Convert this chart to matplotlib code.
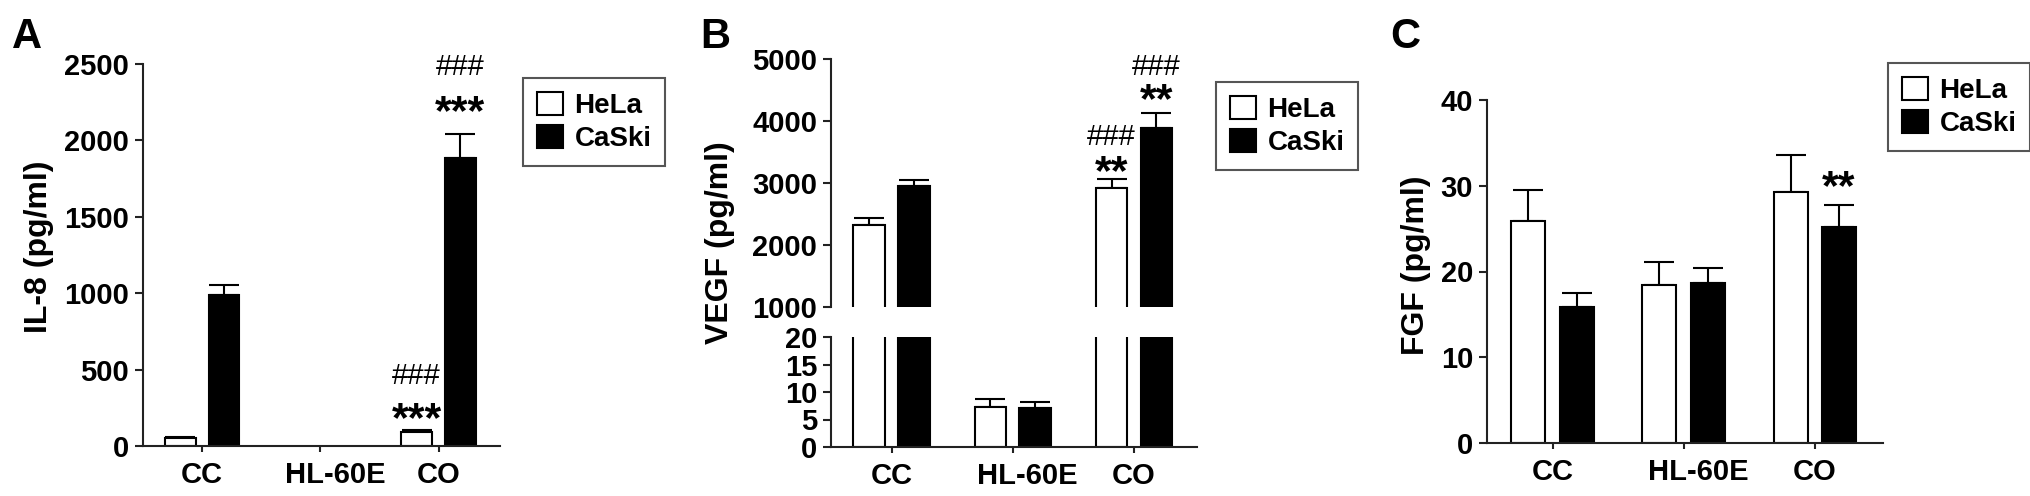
import numpy as np
import matplotlib
matplotlib.use('Agg')
import matplotlib.pyplot as plt
from matplotlib.transforms import ScaledTranslation

plt.rcParams['font.family'] = ['Liberation Sans', 'DejaVu Sans']
plt.rcParams['font.weight'] = 'bold'

categories = ['CC', 'HL-60E', 'CO']
series = ['HeLa', 'CaSki']

# IL-8 (pg/ml); HL-60E has no bars in panel A
il8_hela = [50, np.nan, 90]
il8_hela_err = [6, np.nan, 13]
il8_caski = [985, np.nan, 1885]
il8_caski_err = [70, np.nan, 157]

# VEGF (pg/ml)
vegf_hela = [2323, 7.3, 2919]
vegf_hela_err = [112, 1.4, 146]
vegf_caski = [2950, 7.1, 3887]
vegf_caski_err = [98, 1.1, 242]

# FGF (pg/ml)
fgf_hela = [25.9, 18.4, 29.3]
fgf_hela_err = [3.6, 2.7, 4.3]
fgf_caski = [15.9, 18.7, 25.2]
fgf_caski_err = [1.6, 1.7, 2.5]

# significance marks: (category index, series index, text, y baseline)
il8_marks = [(2, 0, '***', 95), (2, 0, '###', 405), (2, 1, '***', 2105), (2, 1, '###', 2430)]
vegf_marks = [(2, 0, '**', 2990), (2, 0, '###', 3620), (2, 1, '**', 4150), (2, 1, '###', 4745)]
fgf_marks = [(2, 1, '**', 28.5)]

W, H = 2031, 496
fig = plt.figure(figsize=(W / 100, H / 100), dpi=100)

OFF = 0.185
WIDTH = 0.26
x = np.arange(len(categories))


def rect(left, top, right, bottom):
    return [left / W, (H - bottom) / H, (right - left) / W, (bottom - top) / H]


def style(ax, xaxis=True):
    for s in ['top', 'right']:
        ax.spines[s].set_visible(False)
    for s in ['left', 'bottom']:
        ax.spines[s].set_linewidth(1.5)
        ax.spines[s].set_color('#222222')
    ax.tick_params(axis='y', direction='out', length=6, width=1.5, pad=4,
                   labelsize=21, color='#222222')
    ax.tick_params(axis='x', direction='out', length=4, width=1.5, pad=7,
                   labelsize=21, color='#222222')
    ax.set_xlim(-0.5, 2.52)
    if xaxis:
        ax.set_xticks(x)
        ax.set_xticklabels(categories)
        lab = ax.get_xticklabels()[1]
        lab.set_transform(lab.get_transform() + ScaledTranslation(0.15, 0, fig.dpi_scale_trans))
    else:
        ax.spines['bottom'].set_visible(False)
        ax.set_xticks([])


def bars(ax, hela, hela_err, caski, caski_err):
    handles = []
    for off, vals, errs, fc, name in ((-OFF, hela, hela_err, 'white', series[0]),
                                      (OFF, caski, caski_err, 'black', series[1])):
        b = ax.bar(x + off, vals, WIDTH, color=fc, edgecolor='black', linewidth=1.5,
                   zorder=2, label=name)
        ax.errorbar(x + off, vals, yerr=[np.zeros(len(x)), errs], fmt='none',
                    ecolor='black', elinewidth=1.5, capsize=11, capthick=1.5, zorder=1)
        handles.append(b)
    return handles


def marks(ax, items):
    for ci, si, txt, y in items:
        xp = x[ci] + (OFF if si else -OFF)
        if txt.startswith('#'):
            ax.text(xp, y, txt, ha='center', va='baseline', fontsize=21, fontweight='normal')
        else:
            ax.text(xp, y, txt, ha='center', va='baseline', fontsize=31, fontweight='bold')


def legend(ax, handles, left, top):
    leg = ax.legend(handles=handles, loc='upper left', bbox_to_anchor=(left / W, 1 - top / H),
                    bbox_transform=fig.transFigure, borderaxespad=0, fontsize=20,
                    borderpad=0.5, labelspacing=0.2, handletextpad=0.4,
                    handlelength=0.95, handleheight=0.9, fancybox=False, framealpha=1)
    leg.get_frame().set_edgecolor('#555555')
    leg.get_frame().set_linewidth(1.5)


# panel A
axA = fig.add_axes(rect(143, 64, 500, 446))
h = bars(axA, il8_hela, il8_hela_err, il8_caski, il8_caski_err)
axA.set_ylim(0, 2500)
axA.set_yticks([0, 500, 1000, 1500, 2000, 2500])
style(axA)
marks(axA, il8_marks)
legend(axA, h, 523, 78)

# panel B, broken y axis
axB1 = fig.add_axes(rect(831, 59, 1197, 307))
axB2 = fig.add_axes(rect(831, 337, 1197, 447))
for ax in (axB1, axB2):
    h = bars(ax, vegf_hela, vegf_hela_err, vegf_caski, vegf_caski_err)
axB1.set_ylim(1000, 5000)
axB1.set_yticks([1000, 2000, 3000, 4000, 5000])
axB2.set_ylim(0, 20)
axB2.set_yticks([0, 5, 10, 15, 20])
style(axB1, xaxis=False)
style(axB2)
marks(axB1, vegf_marks)
legend(axB1, h, 1216, 82)

# panel C
axC = fig.add_axes(rect(1487, 100, 1883, 443))
h = bars(axC, fgf_hela, fgf_hela_err, fgf_caski, fgf_caski_err)
axC.set_ylim(0, 40)
axC.set_yticks([0, 10, 20, 30, 40])
style(axC)
marks(axC, fgf_marks)
legend(axC, h, 1888, 63)

# axis titles and panel letters
for xc, yc, txt in ((39, 247, 'IL-8 (pg/ml)'), (720, 243, 'VEGF (pg/ml)'), (1416, 265, 'FGF (pg/ml)')):
    fig.text(xc / W, 1 - yc / H, txt, rotation=90, ha='center', va='center', fontsize=23)
for xl, txt in ((12, 'A'), (700, 'B'), (1390, 'C')):
    fig.text(xl / W, 1 - 48 / H, txt, ha='left', va='baseline', fontsize=30)

fig.savefig('out.png', dpi=100)
